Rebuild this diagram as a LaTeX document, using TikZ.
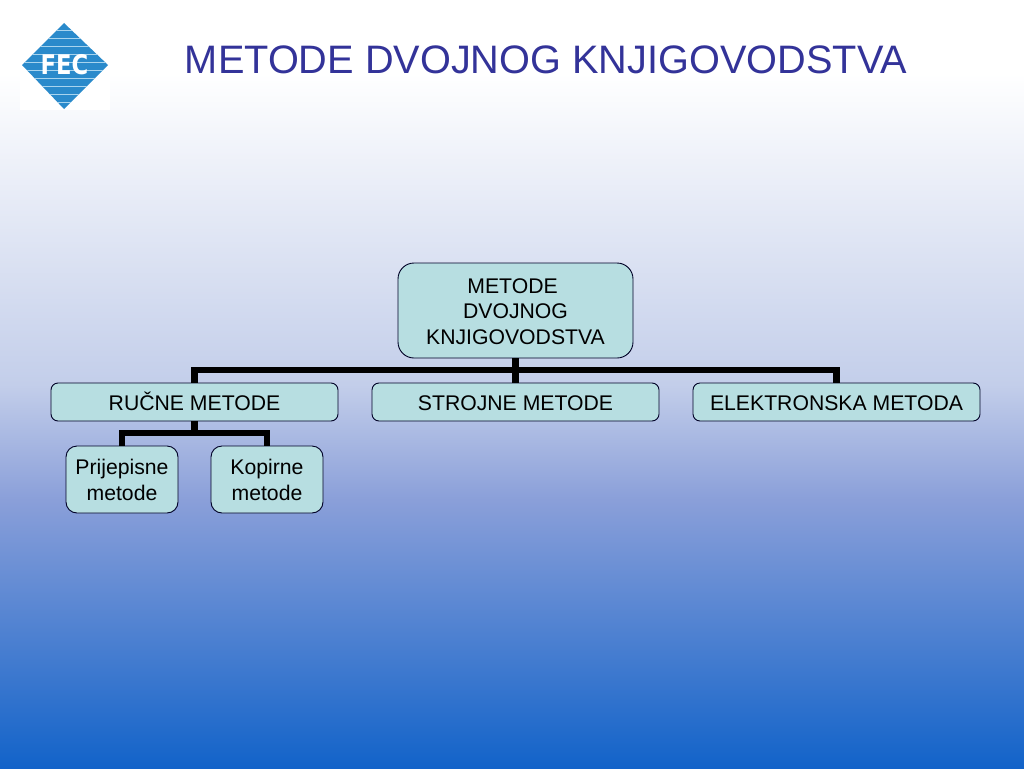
\documentclass[tikz,border=0pt]{standalone}
\usepackage{fontspec}
\setmainfont{Liberation Sans}
\newfontfamily\logofont{DejaVu Sans}
\usetikzlibrary{calc}
\definecolor{bgA}{HTML}{FFFFFF}
\definecolor{bgB}{HTML}{C3CEEA}
\definecolor{bgC}{HTML}{8A9FD9}
\definecolor{bgD}{HTML}{1263C9}
\pgfdeclareverticalshading{slidebg}{1024pt}{
  color(0pt)=(bgD);
  color(268pt)=(bgC);
  color(384pt)=(bgB);
  color(695pt)=(bgA);
  color(768pt)=(bgA)}
\definecolor{titleblue}{HTML}{333399}
\definecolor{boxfill}{HTML}{B7DEE1}
\definecolor{logoblue}{HTML}{2A8ACB}
\definecolor{logostripe}{HTML}{A8D4EE}
\newcommand{\lift}{\vphantom{Č}\rule[-2pt]{0pt}{1pt}}
\tikzset{
  x=1pt,y=-1pt,
  orgbox/.style={draw=black!85!blue,line width=0.9pt,fill=boxfill,rounded corners=#1,
    inner sep=0pt,outer sep=0pt,text=black,font=\fontsize{21.2}{25.5}\selectfont,align=center,anchor=north west},
  orgbox/.default=7pt,
  link/.style={draw=black,line width=6.4pt,line join=miter},
}
\begin{document}
\begin{tikzpicture}
\useasboundingbox (0,0) rectangle (1024,768);
\node[inner sep=0pt,outer sep=0pt,anchor=north west] (bg) at (0,0) {\pgfuseshading{slidebg}};
% logo
\fill[white] (20,20) rectangle (110,110);
\begin{scope}
  \clip (22,65) -- (64,23) -- (108,65) -- (64,109) -- cycle;
  \fill[logoblue] (20,20) rectangle (110,110);
  \foreach \yy in {30,38,46,54,62,70,78,86,94,102}
    \draw[logostripe,line width=0.9pt] (20,\yy) -- (110,\yy);
\end{scope}
\node[text=white,font=\logofont\bfseries\fontsize{27}{27}\selectfont,inner sep=0pt,xscale=0.84] (logotext) at (64.5,65) {FEC};
% title
\node[text=titleblue,font=\fontsize{39.7}{42}\selectfont,inner sep=0pt] (title) at (546,60) {METODE DVOJNOG KNJIGOVODSTVA};
% boxes
\node[orgbox=16pt,minimum width=235pt,minimum height=95pt] (root) at (398,263) {\rule{0pt}{17pt}METODE\ \ \\ DVOJNOG\\ KNJIGOVODSTVA};
\node[orgbox,minimum width=287pt,minimum height=38pt] (rucne) at (51,383) {\lift RUČNE METODE};
\node[orgbox,minimum width=287pt,minimum height=38pt] (strojne) at (372,383) {\lift STROJNE METODE};
\node[orgbox,minimum width=287pt,minimum height=38pt] (elektro) at (693,383) {\lift ELEKTRONSKA METODA};
\node[orgbox=11pt,minimum width=112pt,minimum height=67pt] (prij) at (66,446) {\rule{0pt}{16pt}Prijepisne\\ metode};
\node[orgbox=11pt,minimum width=112pt,minimum height=67pt] (kop) at (211,446) {\rule{0pt}{16pt}Kopirne\\ metode};
% connectors
\coordinate (busA) at ($(root.south)+(0,12)$);
\coordinate (busB) at ($(rucne.south)+(0,12)$);
\draw[link] (root.south) -- (strojne.north);
\draw[link] (busA) -| (rucne.north);
\draw[link] (busA) -| (elektro.north);
\draw[link] (rucne.south) -- (busB);
\draw[link] (busB) -| (prij.north);
\draw[link] (busB) -| (kop.north);
\end{tikzpicture}
\end{document}
